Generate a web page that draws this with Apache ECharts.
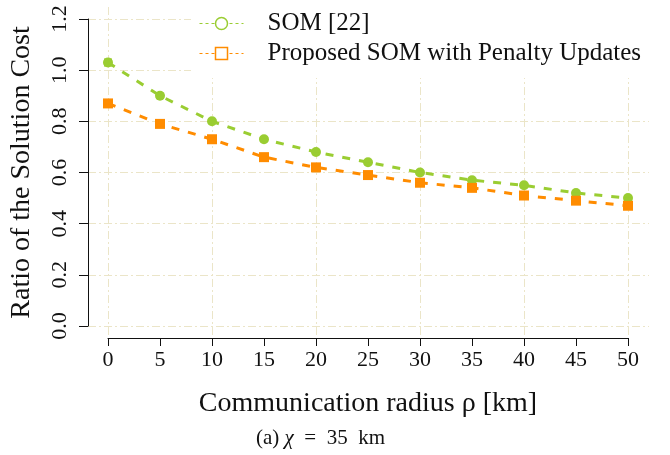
<!DOCTYPE html>
<html>
<head>
<meta charset="utf-8">
<script src="https://cdn.jsdelivr.net/npm/echarts@6/dist/echarts.min.js"></script>
<style>
  html, body { margin: 0; padding: 0; background: #fff; }
  #chart { width: 670px; height: 455px; }
</style>
</head>
<body>
<div id="chart"></div>
<script>
  // data
  const radius = [0, 5, 10, 15, 20, 25, 30, 35, 40, 45, 50];
  const somCost = [1.03, 0.90, 0.80, 0.73, 0.68, 0.64, 0.60, 0.57, 0.55, 0.52, 0.50];
  const somErr = [0.012, 0.008, 0.006, 0.006, 0.006, 0.005, 0.005, 0.005, 0.005, 0.005, 0.005];
  const penCost = [0.87, 0.79, 0.73, 0.66, 0.62, 0.59, 0.56, 0.54, 0.51, 0.49, 0.47];
  const penErr = [0.008, 0.006, 0.01, 0.008, 0.006, 0.006, 0.006, 0.01, 0.006, 0.006, 0.008];
  const seriesNames = ['SOM [22]', 'Proposed SOM with Penalty Updates'];

  const green = '#9acd32';
  const orange = '#ff8c00';
  const gridColor = '#ebe5c8';
  const font = '"Liberation Serif", "DejaVu Serif", serif';
  const gridDash = [8, 3, 2, 3];

  const chart = echarts.init(document.getElementById('chart'));

  function errorBars(name, values, errs, color) {
    return {
      type: 'custom',
      name: name + ' err',
      xAxisIndex: 3,
      yAxisIndex: 3,
      z: 4,
      silent: true,
      data: radius.map((r, i) => [r, values[i] - errs[i], values[i] + errs[i]]),
      renderItem: function (params, api) {
        const lo = api.coord([api.value(0), api.value(1)]);
        const hi = api.coord([api.value(0), api.value(2)]);
        const w = 4;
        const st = { stroke: color, lineWidth: 2 };
        return {
          type: 'group',
          children: [
            { type: 'line', shape: { x1: lo[0], y1: lo[1], x2: hi[0], y2: hi[1] }, style: st },
            { type: 'line', shape: { x1: lo[0] - w, y1: lo[1], x2: lo[0] + w, y2: lo[1] }, style: st },
            { type: 'line', shape: { x1: hi[0] - w, y1: hi[1], x2: hi[0] + w, y2: hi[1] }, style: st }
          ]
        };
      }
    };
  }

  const option = {
    backgroundColor: '#fff',
    animation: false,
    textStyle: { fontFamily: font, color: '#111' },
    grid: [
      // 0: vertical grid lines + x axis
      { left: 108, right: 42, top: 7, bottom: 117 },
      // 1: horizontal grid lines + y axis
      { left: 87, right: 21, top: 19, bottom: 129 },
      // 2: data
      { left: 108, right: 42, top: 19, bottom: 129 }
    ],
    xAxis: [
      {
        gridIndex: 0, type: 'value', min: 0, max: 50, interval: 10,
        axisLine: { show: false }, axisTick: { show: false }, axisLabel: { show: false },
        splitLine: { show: true, lineStyle: { color: gridColor, width: 1, type: gridDash } }
      },
      {
        gridIndex: 0, type: 'value', min: 0, max: 50, interval: 5, position: 'bottom',
        axisLine: { show: true, lineStyle: { color: '#111', width: 1 } },
        axisTick: { show: true, length: 8, lineStyle: { color: '#111' } },
        axisLabel: { show: true, fontSize: 22, margin: 11, color: '#111', fontFamily: font },
        splitLine: { show: false },
        name: 'Communication radius ρ [km]',
        nameLocation: 'middle',
        nameGap: 52,
        nameTextStyle: { fontSize: 28, color: '#111', fontFamily: font }
      },
      { gridIndex: 1, type: 'value', min: 0, max: 1, show: false },
      { gridIndex: 2, type: 'value', min: 0, max: 50, show: false }
    ],
    yAxis: [
      { gridIndex: 0, type: 'value', min: 0, max: 1, show: false },
      {
        gridIndex: 1, type: 'value', min: 0, max: 1.2, interval: 0.2,
        axisLine: { show: true, lineStyle: { color: '#111', width: 1 } },
        axisTick: { show: true, length: 9, lineStyle: { color: '#111' } },
        axisLabel: {
          show: true, fontSize: 22, rotate: 90, margin: 17, color: '#111', fontFamily: font,
          formatter: v => v.toFixed(1)
        },
        splitLine: { show: true, lineStyle: { color: gridColor, width: 1, type: gridDash } },
        name: 'Ratio of the Solution Cost',
        nameLocation: 'middle',
        nameGap: 52,
        nameTextStyle: { fontSize: 28, color: '#111', fontFamily: font }
      },
      { gridIndex: 1, type: 'value', min: 0, max: 1, show: false },
      { gridIndex: 2, type: 'value', min: 0, max: 1.2, show: false }
    ],
    legend: {
      data: [
        { name: seriesNames[0], itemStyle: { color: '#fff', borderColor: green, borderWidth: 1.5 } },
        { name: seriesNames[1], itemStyle: { color: '#fff', borderColor: orange, borderWidth: 1.5 } }
      ],
      orient: 'vertical',
      left: 191,
      top: 0,
      padding: [11, 20, 12, 8],
      backgroundColor: '#fff',
      itemWidth: 44,
      itemHeight: 15,
      itemGap: 5,
      lineStyle: { width: 1, type: [3, 3] },
      textStyle: { fontSize: 25, color: '#111', fontFamily: font, padding: [0, 0, 0, 19] }
    },
    series: [
      {
        name: seriesNames[0],
        type: 'line',
        xAxisIndex: 3,
        yAxisIndex: 3,
        z: 3,
        data: radius.map((r, i) => [r, somCost[i]]),
        symbol: 'circle',
        symbolSize: 10,
        itemStyle: { color: green },
        lineStyle: { color: green, width: 3, type: [8, 9] }
      },
      {
        name: seriesNames[1],
        type: 'line',
        xAxisIndex: 3,
        yAxisIndex: 3,
        z: 3,
        data: radius.map((r, i) => [r, penCost[i]]),
        symbol: 'rect',
        symbolSize: 10,
        itemStyle: { color: orange },
        lineStyle: { color: orange, width: 3, type: [8, 9] }
      },
      errorBars(seriesNames[0], somCost, somErr, green),
      errorBars(seriesNames[1], penCost, penErr, orange)
    ],
    graphic: [
      {
        type: 'text',
        left: 256,
        top: 428,
        style: {
          text: '(a) {i|χ}  =  35  km',
          font: '21px ' + font,
          fill: '#111',
          rich: { i: { fontStyle: 'italic', fontSize: 21, fontFamily: font } }
        }
      }
    ]
  };

  chart.setOption(option);
</script>
</body>
</html>
